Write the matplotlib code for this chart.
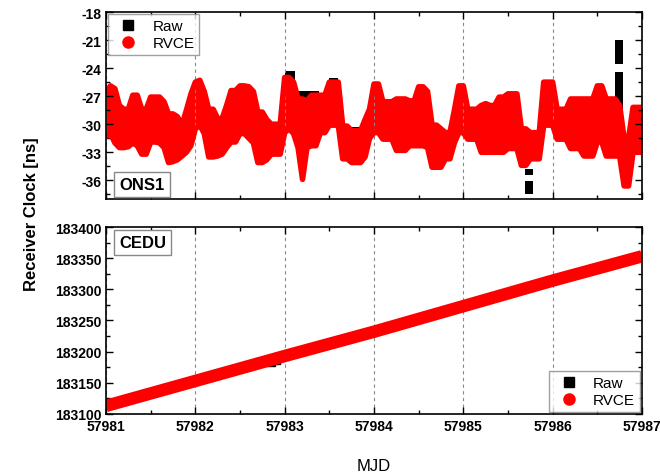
import numpy as np
import matplotlib
matplotlib.use("Agg")
import matplotlib.pyplot as plt
from matplotlib.ticker import MultipleLocator

plt.rcParams['font.family'] = ['Liberation Sans', 'DejaVu Sans']
plt.rcParams['axes.unicode_minus'] = False

# ONS1 band (days after 57981), upper / lower edge of the RVCE points
ons_t = np.arange(0, 6.001, 0.05) + 57981
ons_hi = [-26.5, -25.9, -26.2, -28.0, -28.4, -28.4, -26.9, -26.9, -28.4, -28.4,
          -27.1, -27.1, -27.1, -27.6, -28.9, -28.9, -29.2, -30.1, -28.5, -26.8,
          -25.5, -25.3, -26.5, -28.4, -28.4, -29.4, -29.4, -28.0, -26.4, -26.4,
          -25.9, -25.9, -26.0, -26.5, -28.7, -28.7, -29.5, -30.0, -30.0, -30.0,
          -25.0, -25.0, -25.5, -27.3, -27.3, -27.5, -26.9, -26.9, -26.9, -26.9,
          -25.5, -25.5, -25.5, -30.2, -30.2, -30.7, -30.7, -30.7, -29.5, -28.4,
          -25.7, -25.7, -27.6, -27.6, -27.6, -27.3, -27.3, -27.3, -27.5, -27.5,
          -26.0, -26.0, -26.5, -30.1, -30.1, -30.5, -30.9, -30.9, -28.5, -25.9,
          -25.9, -28.4, -28.4, -28.4, -28.0, -27.8, -28.0, -28.0, -27.1, -27.1,
          -26.75, -26.75, -26.75, -30.5, -30.5, -30.9, -30.9, -30.9, -25.5, -25.5,
          -25.5, -28.4, -28.4, -28.4, -27.3, -27.3, -27.3, -27.3, -27.3, -27.3,
          -25.9, -25.9, -27.3, -27.3, -27.3, -28.0, -31.5, -31.5, -28.2, -28.2,
          -28.2]
ons_lo = [-31.3, -31.0, -32.0, -32.5, -32.5, -32.4, -32.0, -32.3, -33.2, -33.2,
          -31.9, -31.9, -32.0, -32.5, -34.1, -34.0, -33.8, -33.4, -33.0, -32.3,
          -30.5, -30.1, -31.0, -33.5, -33.5, -33.4, -33.2, -32.5, -31.9, -31.9,
          -31.0, -31.0, -31.5, -32.0, -34.1, -34.1, -33.8, -33.2, -33.2, -33.2,
          -30.9, -30.5, -31.0, -32.5, -35.9, -32.5, -32.3, -32.3, -30.9, -30.9,
          -30.1, -30.1, -30.1, -33.7, -33.7, -34.1, -34.1, -34.1, -33.5, -31.5,
          -30.9, -30.9, -31.6, -31.6, -31.6, -32.8, -32.8, -32.8, -32.3, -32.3,
          -32.3, -32.3, -32.5, -34.6, -34.6, -34.6, -33.7, -33.7, -32.0, -30.9,
          -30.9, -31.6, -31.6, -31.6, -33.0, -33.0, -33.0, -33.0, -33.0, -33.0,
          -32.6, -32.6, -32.6, -34.4, -34.4, -33.7, -33.7, -33.7, -30.1, -30.1,
          -30.1, -31.6, -31.6, -31.6, -32.6, -32.6, -32.6, -33.4, -33.4, -33.4,
          -31.9, -31.9, -33.4, -33.4, -33.4, -33.4, -36.6, -36.6, -33.0, -33.0,
          -33.0]

# places where the raw points sit above / outside the RVCE band
raw_seg_t0 = [57983.00, 57983.15, 57983.50, 57983.72]
raw_seg_t1 = [57983.12, 57983.38, 57983.60, 57983.92]
raw_seg_top = [-24.3, -26.5, -25.1, -30.3]
raw_seg_bot = [-30.0, -31.0, -30.0, -33.0]
raw_out_t0 = [57985.69, 57985.69, 57986.70, 57986.70]
raw_out_t1 = [57985.78, 57985.78, 57986.79, 57986.79]
raw_out_top = [-34.8, -36.1, -21.0, -24.4]
raw_out_bot = [-35.4, -37.5, -23.6, -28.4]

# CEDU clock
cedu_t = [57981, 57982, 57983, 57984, 57985, 57986, 57987]
cedu_v = [183113, 183153, 183193, 183232, 183273, 183314, 183353]
cedu_raw_t = [57982.85, 57982.9]
cedu_raw_v = [183183, 183186]

fig = plt.figure(figsize=(6.6, 4.77), dpi=100)
ax1 = fig.add_axes([0.1606, 0.5807, 0.8121, 0.392])
ax2 = fig.add_axes([0.1606, 0.130, 0.8121, 0.392])

# top panel
for a, b, top, bot in zip(raw_seg_t0, raw_seg_t1, raw_seg_top, raw_seg_bot):
    ax1.fill_between([a, b], [bot, bot], [top, top], color='black', lw=0)
for a, b, top, bot in zip(raw_out_t0, raw_out_t1, raw_out_top, raw_out_bot):
    ax1.fill_between([a, b], [bot, bot], [top, top], color='black', lw=0)
ax1.fill_between(ons_t, ons_lo, ons_hi, color='red', lw=0)
ax1.plot(ons_t, ons_hi, color='red', lw=4, solid_capstyle='round', solid_joinstyle='round')
ax1.plot(ons_t, ons_lo, color='red', lw=4, solid_capstyle='round', solid_joinstyle='round')
ax1.plot([], [], 's', color='black', ms=7, label='Raw')
ax1.plot([], [], 'o', color='red', ms=8, label='RVCE')
ax1.set_ylim(-38, -18)
ax1.yaxis.set_minor_locator(MultipleLocator(1.5))
ax1.set_yticks([-18, -21, -24, -27, -30, -33, -36])
ax1.tick_params(labelbottom=False)
ax1.legend(loc='upper left', fontsize=11, frameon=True, fancybox=False,
           edgecolor='#888888', borderaxespad=0.15, handletextpad=0.6,
           labelspacing=0.2, borderpad=0.3)
ax1.text(0.025, 0.04, 'ONS1', transform=ax1.transAxes, fontsize=12, fontweight='bold',
         va='bottom', ha='left',
         bbox=dict(boxstyle='square,pad=0.3', fc='white', ec='#888888'))

# bottom panel
ax2.plot(cedu_raw_t, cedu_raw_v, 's', color='black', ms=6)
ax2.plot(cedu_t, cedu_v, color='red', lw=9, solid_capstyle='butt')
ax2.plot([], [], 's', color='black', ms=7, label='Raw')
ax2.plot([], [], 'o', color='red', ms=8, label='RVCE')
ax2.set_ylim(183100, 183400)
ax2.yaxis.set_major_locator(MultipleLocator(50))
ax2.yaxis.set_minor_locator(MultipleLocator(25))
ax2.legend(loc='lower right', fontsize=11, frameon=True, fancybox=False,
           edgecolor='#888888', borderaxespad=0.15, handletextpad=0.6,
           labelspacing=0.2, borderpad=0.3)
ax2.text(0.025, 0.955, 'CEDU', transform=ax2.transAxes, fontsize=12, fontweight='bold',
         va='top', ha='left',
         bbox=dict(boxstyle='square,pad=0.3', fc='white', ec='#888888'))

for ax in (ax1, ax2):
    ax.set_xlim(57981, 57987)
    ax.xaxis.set_major_locator(MultipleLocator(1))
    ax.xaxis.set_minor_locator(MultipleLocator(0.5))
    ax.xaxis.get_major_formatter().set_useOffset(False)
    ax.yaxis.get_major_formatter().set_useOffset(False)
    ax.grid(axis='x', which='major', ls=(0, (3, 3)), color='#888888', lw=0.8)
    ax.tick_params(which='both', direction='in', top=True, right=True, width=1)
    ax.tick_params(which='major', length=5, labelsize=10)
    ax.tick_params(which='minor', length=3)
    for lbl in ax.get_xticklabels() + ax.get_yticklabels():
        lbl.set_fontweight('bold')
    for s in ax.spines.values():
        s.set_linewidth(1.2)

ax2.set_xlabel('MJD', fontsize=12, labelpad=18)
fig.text(0.048, 0.55, 'Receiver Clock [ns]', rotation=90, fontsize=12,
         fontweight='bold', ha='center', va='center')

fig.savefig('out.png', dpi=100)
